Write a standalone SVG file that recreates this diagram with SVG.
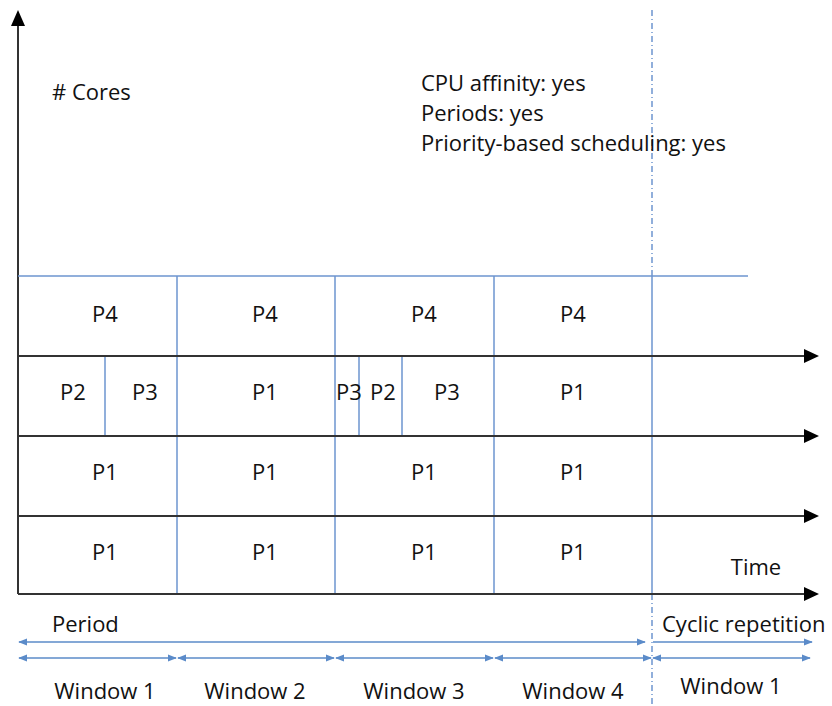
<svg xmlns="http://www.w3.org/2000/svg" width="832" height="706" viewBox="0 0 832 706">
<style>
text{font-family:"Open Sans","Liberation Sans",sans-serif;font-size:22px;fill:#111}
.c{text-anchor:middle}
.ax{stroke:#333;stroke-width:2;fill:none}
.bl{stroke:#6d95cf;stroke-width:1.5;fill:none}
.ar{stroke:#5b8bc9;stroke-width:1.5;fill:none}
</style>
<defs>
<marker id="bh" viewBox="0 0 10 10" refX="9" refY="5" markerWidth="9" markerHeight="9" orient="auto-start-reverse" markerUnits="userSpaceOnUse"><path d="M0,1L10,5L0,9z" fill="#5b8bc9"/></marker>
</defs>
<g id="connectors">
<line class="ax" x1="18" y1="594" x2="18" y2="20"/>
<path d="M11,26L18,10L25,26z" fill="#000"/>
<line class="bl" x1="18" y1="276" x2="748" y2="276"/>
<line class="bl" x1="177" y1="276" x2="177" y2="594"/>
<line class="bl" x1="335" y1="276" x2="335" y2="594"/>
<line class="bl" x1="494" y1="276" x2="494" y2="594"/>
<line class="bl" x1="652" y1="276" x2="652" y2="594"/>
<line class="bl" x1="105" y1="356" x2="105" y2="436"/>
<line class="bl" x1="359" y1="356" x2="359" y2="436"/>
<line class="bl" x1="402" y1="356" x2="402" y2="436"/>
<line class="bl" x1="652" y1="10" x2="652" y2="276" stroke-dasharray="6,3,1,3"/>
<line class="bl" x1="652" y1="594" x2="652" y2="706" stroke-dasharray="6,3,1,3"/>
<line class="ax" x1="18" y1="356" x2="806" y2="356"/>
<line class="ax" x1="18" y1="436" x2="806" y2="436"/>
<line class="ax" x1="18" y1="516" x2="806" y2="516"/>
<line class="ax" x1="18" y1="594" x2="806" y2="594"/>
<path d="M804,349L819,356L804,363z" fill="#000"/>
<path d="M804,429L819,436L804,443z" fill="#000"/>
<path d="M804,509L819,516L804,523z" fill="#000"/>
<path d="M804,587L819,594L804,601z" fill="#000"/>
<line class="ar" x1="19" y1="642" x2="645" y2="642" marker-start="url(#bh)" marker-end="url(#bh)"/>
<line class="ar" x1="653" y1="642" x2="812" y2="642" marker-end="url(#bh)"/>
<line class="ar" x1="19" y1="658" x2="176" y2="658" marker-start="url(#bh)" marker-end="url(#bh)"/>
<line class="ar" x1="178" y1="658" x2="334" y2="658" marker-start="url(#bh)" marker-end="url(#bh)"/>
<line class="ar" x1="336" y1="658" x2="493" y2="658" marker-start="url(#bh)" marker-end="url(#bh)"/>
<line class="ar" x1="495" y1="658" x2="651" y2="658" marker-start="url(#bh)" marker-end="url(#bh)"/>
<line class="ar" x1="653" y1="658" x2="810" y2="658" marker-start="url(#bh)" marker-end="url(#bh)"/>
</g>
<g id="labels">
<text x="52" y="100"># Cores</text>
<text x="421" y="91">CPU affinity: yes</text>
<text x="421" y="121">Periods: yes</text>
<text x="421" y="151">Priority-based scheduling: yes</text>
<text x="756" y="575" class="c">Time</text>
<text x="52" y="632">Period</text>
<text x="662" y="632">Cyclic repetition</text>
</g>
<g id="row4">
<text class="c" x="105" y="322">P4</text>
<text class="c" x="265" y="322">P4</text>
<text class="c" x="424" y="322">P4</text>
<text class="c" x="573" y="322">P4</text>
</g>
<g id="row3">
<text class="c" x="73" y="400">P2</text>
<text class="c" x="145" y="400">P3</text>
<text class="c" x="265" y="400">P1</text>
<text class="c" x="349" y="400">P3</text>
<text class="c" x="383" y="400">P2</text>
<text class="c" x="447" y="400">P3</text>
<text class="c" x="573" y="400">P1</text>
</g>
<g id="row2">
<text class="c" x="105" y="480">P1</text>
<text class="c" x="265" y="480">P1</text>
<text class="c" x="424" y="480">P1</text>
<text class="c" x="573" y="480">P1</text>
</g>
<g id="row1">
<text class="c" x="105" y="560">P1</text>
<text class="c" x="265" y="560">P1</text>
<text class="c" x="424" y="560">P1</text>
<text class="c" x="573" y="560">P1</text>
</g>
<g id="windows">
<text class="c" x="105" y="699">Window 1</text>
<text class="c" x="255" y="699">Window 2</text>
<text class="c" x="414" y="699">Window 3</text>
<text class="c" x="573" y="699">Window 4</text>
<text class="c" x="731" y="694">Window 1</text>
</g>
</svg>
